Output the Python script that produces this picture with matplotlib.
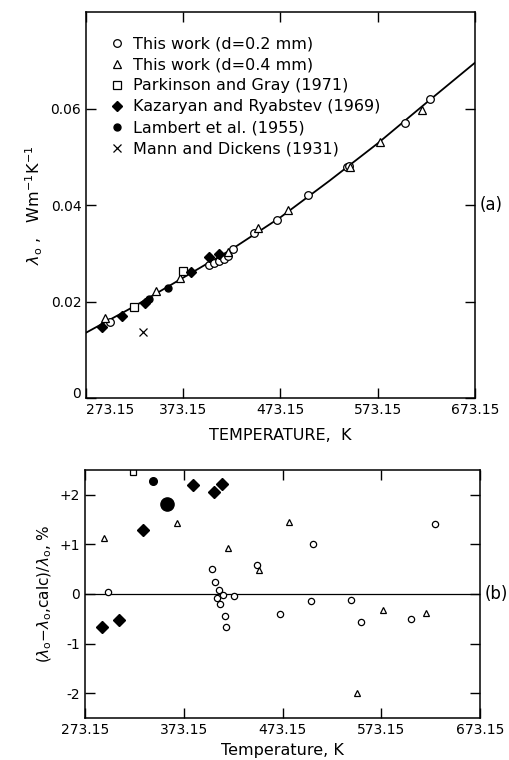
import matplotlib.pyplot as plt

plt.rcParams['font.family'] = ['DejaVu Sans']
plt.rcParams['mathtext.fontset'] = 'dejavusans'

# ---- panel (a): thermal conductivity vs temperature ----
curve_T = [273.15, 323.15, 373.15, 423.15, 473.15, 523.15, 573.15, 623.15, 673.15]
curve_L = [0.0136, 0.0191, 0.0250, 0.0309, 0.0375, 0.0450, 0.0528, 0.0612, 0.0695]

c02_T = [297.6, 399.9, 405.0, 410.0, 415.4, 418.8, 424.0, 446.3, 470.0, 501.7, 541.9, 543.5, 601.7, 626.8]
c02_L = [0.0159, 0.0277, 0.0281, 0.0284, 0.0288, 0.0295, 0.0310, 0.0343, 0.0370, 0.0422, 0.0479, 0.0481, 0.0571, 0.0621]

t04_T = [292.7, 345.0, 369.7, 418.8, 450.0, 481.0, 545.0, 575.9, 618.8]
t04_L = [0.0167, 0.0222, 0.0250, 0.0303, 0.0353, 0.0391, 0.0480, 0.0531, 0.0597]

pg_T = [321.9, 372.4]
pg_L = [0.0190, 0.0264]

kr_T = [289.3, 310.0, 334.0, 381.0, 399.9, 410.0]
kr_L = [0.0148, 0.0170, 0.0198, 0.0261, 0.0292, 0.0299]

lam_T = [338.0, 357.7]
lam_L = [0.0206, 0.0228]

md_T = [331.2]
md_L = [0.0138]

# ---- panel (b): deviations, % ----
c02_Tb = [296.7, 401.4, 404.5, 407.1, 408.5, 410.2, 412.6, 414.6, 415.6, 424.4,
          447.0, 470.6, 501.7, 503.7, 542.2, 552.6, 603.0, 627.6]
c02_D = [0.03, 0.50, 0.24, -0.08, 0.07, -0.20, -0.02, -0.44, -0.67, -0.05,
         0.59, -0.41, -0.14, 1.00, -0.12, -0.56, -0.51, 1.41]

t04_Tb = [292.4, 366.6, 418.3, 449.7, 479.7, 548.3, 575.2, 618.1]
t04_D = [1.12, 1.42, 0.93, 0.48, 1.44, -1.99, -0.33, -0.39]

pg_Tb = [321.4]
pg_D = [2.45]

kr_Tb = [289.7, 307.6, 332.2, 382.2, 403.8, 411.9]
kr_D = [-0.67, -0.53, 1.29, 2.19, 2.05, 2.21]

lam_Tb = [342.3, 355.9]
lam_D = [2.28, 1.80]

xticks = [273.15, 373.15, 473.15, 573.15, 673.15]
xticklabels = ["273.15", "373.15", "473.15", "573.15", "673.15"]

fig = plt.figure(figsize=(5.1, 7.6), dpi=100)
ax1 = fig.add_axes([0.169, 0.476, 0.762, 0.508])
ax2 = fig.add_axes([0.167, 0.055, 0.774, 0.327])

open_kw = dict(linestyle='none', markerfacecolor='white', markeredgecolor='black', markeredgewidth=0.9)
fill_kw = dict(linestyle='none', color='black')

ax1.plot(curve_T, curve_L, color='black', lw=1.3, zorder=1)
ax1.plot(c02_T, c02_L, 'o', ms=5.5, label='This work (d=0.2 mm)', **open_kw)
ax1.plot(t04_T, t04_L, '^', ms=6, label='This work (d=0.4 mm)', **open_kw)
ax1.plot(pg_T, pg_L, 's', ms=6, label='Parkinson and Gray (1971)', **open_kw)
ax1.plot(kr_T, kr_L, 'D', ms=5, label='Kazaryan and Ryabstev (1969)', **fill_kw)
ax1.plot(lam_T, lam_L, 'o', ms=5, label='Lambert et al. (1955)', **fill_kw)
ax1.plot(md_T, md_L, 'x', ms=5.5, mew=0.9, label='Mann and Dickens (1931)', **fill_kw)

ax1.set_xlim(273.15, 673.15)
ax1.set_ylim(0, 0.08)
ax1.set_xticks(xticks)
ax1.set_xticklabels(xticklabels)
ax1.set_yticks([0, 0.02, 0.04, 0.06])
ax1.set_yticklabels(["0", "0.02", "0.04", "0.06"])
ax1.set_xlabel("TEMPERATURE,  K", fontsize=11.5, labelpad=8)
ax1.set_ylabel(r"$\lambda_\mathrm{o}$ ,   Wm$^{-1}$K$^{-1}$", fontsize=11.5, labelpad=4)
ax1.text(1.012, 0.5, "(a)", transform=ax1.transAxes, fontsize=12, va='center', ha='left')
leg = ax1.legend(loc='upper left', frameon=False, fontsize=11.5, handletextpad=0.5,
                 labelspacing=0.38, borderaxespad=1.1, handlelength=0.9)

ax2.axhline(0, color='black', lw=0.9, zorder=1)
ax2.plot(c02_Tb, c02_D, 'o', ms=4.5, **open_kw)
ax2.plot(t04_Tb, t04_D, '^', ms=5, **open_kw)
ax2.plot(pg_Tb, pg_D, 's', ms=5, **open_kw)
ax2.plot(kr_Tb, kr_D, 'D', ms=6.5, **fill_kw)
ax2.plot(lam_Tb[:1], lam_D[:1], 'o', ms=5.5, **fill_kw)
ax2.plot(lam_Tb[1:], lam_D[1:], 'o', ms=9.5, **fill_kw)

ax2.set_xlim(273.15, 673.15)
ax2.set_ylim(-2.5, 2.5)
ax2.set_xticks(xticks)
ax2.set_xticklabels(xticklabels)
ax2.set_yticks([-2, -1, 0, 1, 2])
ax2.set_yticklabels(["-2", "-1", "0", "+1", "+2"])
ax2.set_xlabel("Temperature, K", fontsize=11.5, labelpad=4)
ax2.set_ylabel(r"($\lambda_\mathrm{o}$$-$$\lambda_\mathrm{o}$,calc)/$\lambda_\mathrm{o}$, %",
               fontsize=11, labelpad=4)
ax2.text(1.012, 0.5, "(b)", transform=ax2.transAxes, fontsize=12, va='center', ha='left')

for ax in (ax1, ax2):
    ax.tick_params(direction='in', length=7, width=1, top=True, right=True, labelsize=10)
    for s in ax.spines.values():
        s.set_linewidth(1.1)

# the "0" sits a bit above the corner and 273.15 starts right of it, as in the original
ax1.yaxis.get_major_ticks()[0].label1.set_verticalalignment('baseline')
ax1.xaxis.get_major_ticks()[0].label1.set_horizontalalignment('left')

plt.savefig("out.png", dpi=100)
plt.close()
